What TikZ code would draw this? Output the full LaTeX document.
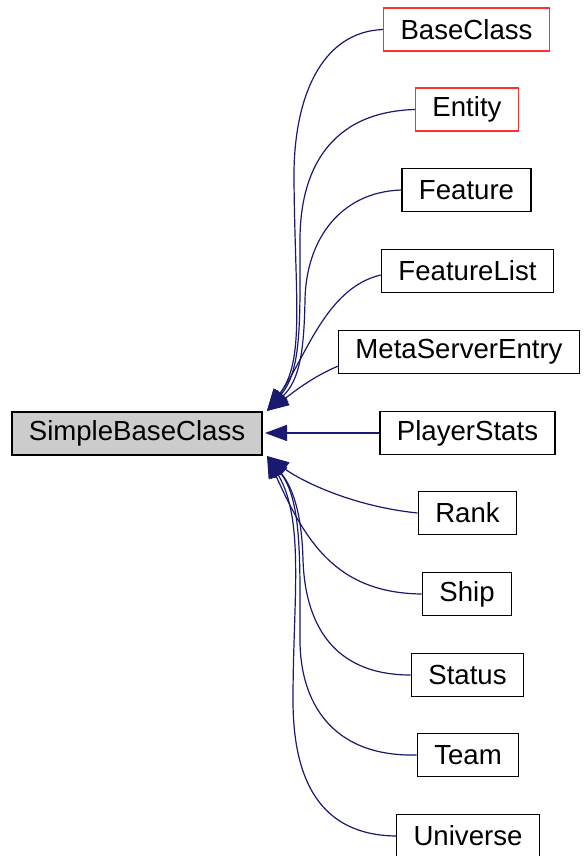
\documentclass[tikz,border=0pt]{standalone}
\usepackage{fontspec}
\setmainfont{Liberation Sans}
\usetikzlibrary{arrows.meta}

\definecolor{edgeblue}{HTML}{191970}
\definecolor{boxred}{HTML}{FF3030}

\tikzset{
    cls/.style={draw=black, line width=1.4pt, minimum height=43pt, inner xsep=17pt,
        font=\fontsize{27.6}{30}\selectfont},
    undoc/.style={cls, draw=boxred},
    inh/.style={draw=edgeblue, line width=1.2pt,
        -{Triangle[length=22pt,width=16pt,fill=edgeblue]}}
}

\begin{document}
\begin{tikzpicture}[x=1pt, y=-1pt]
    \useasboundingbox (0,0) rectangle (585,856);

    % parent
    \node[cls, fill=black!20] (sbc) at (137,433.5) {SimpleBaseClass};

    % derived classes
    \node[undoc] (baseclass) at (466.5,29.5) {BaseClass};
    \node[undoc] (entity) at (467,109.5) {Entity};
    \node[cls] (feature) at (466.5,190) {Feature};
    \node[cls] (featurelist) at (467.5,271) {FeatureList};
    \node[cls] (metaserver) at (459,352) {MetaServerEntry};
    \node[cls] (playerstats) at (467.5,433) {PlayerStats};
    \node[cls] (rank) at (467.5,513) {Rank};
    \node[cls] (ship) at (467,594) {Ship};
    \node[cls] (status) at (467.5,675) {Status};
    \node[cls] (team) at (468,755) {Team};
    \node[cls] (universe) at (468,836) {Universe};

    \coordinate (top) at (267,411);
    \coordinate (mid) at (265,433);
    \coordinate (bot) at (267,456);

    % upper edges
    \draw[inh] (baseclass.west) .. controls (320,32) and (293,100) .. (294,180)
        .. controls (295,300) and (305,360) .. (top);
    \draw[inh] (entity.west) .. controls (330,112) and (300,170) .. (300,240)
        .. controls (300,320) and (302,370) .. (top);
    \draw[inh] (feature.west) .. controls (340,192) and (306,240) .. (305,300)
        .. controls (304,350) and (300,380) .. (top);
    \draw[inh] ([yshift=-4pt]featurelist.west) .. controls (325,288) and (305,360) .. (top);
    \draw[inh] ([yshift=8pt]metaserver.south west) .. controls (310,378) and (290,395) .. (top);
    \draw[inh] (playerstats.west) -- (mid);
    % lower edges
    \draw[inh] (rank.west) .. controls (350,506) and (300,480) .. (bot);
    \draw[inh] (ship.west) .. controls (335,593) and (305,540) .. (bot);
    \draw[inh] (status.west) .. controls (330,675) and (305,620) .. (303,560)
        .. controls (302,520) and (295,490) .. (bot);
    \draw[inh] (team.west) .. controls (330,757) and (300,700) .. (300,640)
        .. controls (300,560) and (302,500) .. (bot);
    \draw[inh] (universe.west) .. controls (320,835) and (293,780) .. (293,700)
        .. controls (293,600) and (305,520) .. (bot);
\end{tikzpicture}
\end{document}
